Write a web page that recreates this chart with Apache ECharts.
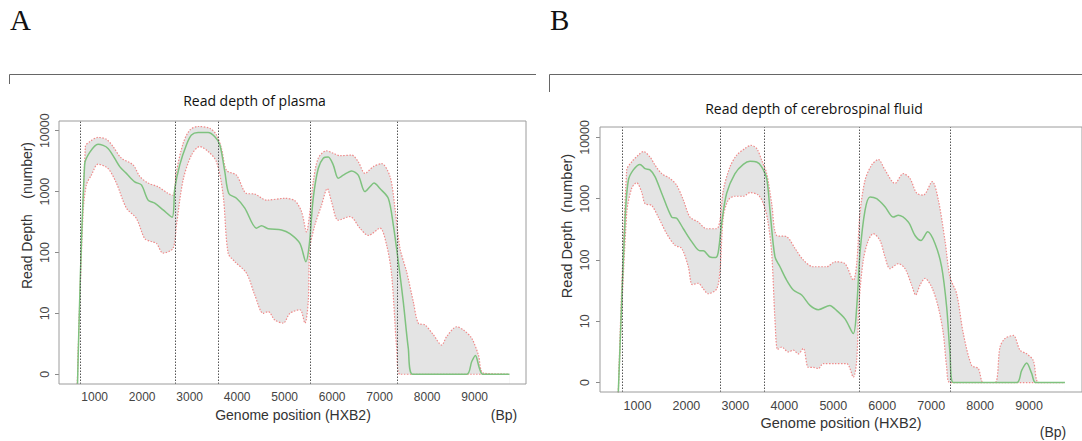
<!DOCTYPE html>
<html>
<head>
<meta charset="utf-8">
<script src="https://cdn.jsdelivr.net/npm/echarts@6/dist/echarts.min.js"></script>
<style>
html,body{margin:0;padding:0;background:#fff;}
#chart{width:1082px;height:441px;}
</style>
</head>
<body>
<div id="chart"></div>
<script>
// ---------- tick values / labels ----------
const xTickValues = [1000, 2000, 3000, 4000, 5000, 6000, 7000, 8000, 9000];
// y axis is log10(read depth); the reference labels the 10^0 level as "0"
const yTickValues = [0, 1, 2, 3, 4];
const yTickLabels = ['0', '10', '100', '1000', '10000'];

// ---------- Panel A: plasma  ([HXB2 position, log10 read depth]) ----------
const plasmaMean = [[640,-0.16],[790,3.45],[900,3.65],[1071,3.78],[1282,3.71],[1528,3.41],[1668,3.30],[1844,3.16],[1985,3.11],[2125,2.86],[2265,2.81],[2441,2.70],[2630,2.58],[2687,3.05],[2792,3.44],[2933,3.77],[3038,3.93],[3178,3.97],[3389,3.97],[3530,3.90],[3635,3.77],[3740,3.33],[3824,2.97],[3986,2.89],[4161,2.73],[4408,2.40],[4513,2.44],[4653,2.39],[4934,2.37],[5110,2.31],[5320,2.15],[5447,1.85],[5517,2.12],[5601,2.89],[5707,3.38],[5812,3.55],[5917,3.57],[6022,3.44],[6128,3.22],[6233,3.27],[6409,3.34],[6549,3.27],[6690,3.00],[6795,3.08],[6880,3.14],[7006,3.05],[7181,2.89],[7287,2.45],[7392,1.85],[7497,1.19],[7602,0.43],[7695,0],[8832,0],[8938,0.21],[9014,0.31],[9099,0.10],[9169,0],[9731,0]];
const plasmaUpper = [[636,-0.16],[805,3.74],[896,3.82],[1071,3.89],[1247,3.86],[1387,3.74],[1563,3.55],[1809,3.44],[1950,3.25],[2125,3.14],[2335,3.08],[2546,2.97],[2651,2.94],[2722,3.33],[2862,3.79],[3003,4.01],[3178,4.07],[3424,4.04],[3565,3.93],[3670,3.71],[3776,3.35],[3986,3.27],[4197,2.97],[4372,2.96],[4618,2.86],[5004,2.89],[5215,2.85],[5356,2.67],[5461,2.34],[5531,2.67],[5601,3.16],[5707,3.55],[5882,3.67],[6022,3.63],[6163,3.59],[6409,3.60],[6549,3.49],[6690,3.30],[6865,3.41],[7041,3.46],[7217,3.25],[7322,2.73],[7427,2.07],[7568,1.68],[7708,1.19],[7813,0.84],[7954,0.81],[8129,0.65],[8305,0.48],[8411,0.62],[8622,0.78],[8761,0.73],[8938,0.59],[9077,0.32],[9183,0.02],[9731,0]];
const plasmaLower = [[636,-0.16],[755,2.62],[826,3.11],[931,3.27],[1071,3.45],[1282,3.38],[1458,3.14],[1668,2.73],[1879,2.56],[2054,2.23],[2195,2.18],[2301,2.15],[2441,1.99],[2651,2.07],[2722,2.45],[2862,3.19],[3038,3.60],[3213,3.74],[3389,3.66],[3565,3.49],[3705,2.94],[3810,1.99],[3951,1.85],[4197,1.66],[4372,1.30],[4548,1.00],[4653,1.03],[4794,0.89],[4969,0.84],[5110,1.00],[5320,1.06],[5426,0.84],[5496,1.19],[5531,2.07],[5636,2.45],[5777,2.78],[5896,3.05],[5988,2.83],[6128,2.53],[6374,2.59],[6584,2.40],[6760,2.28],[7006,2.40],[7147,2.12],[7252,1.63],[7357,0.43],[7427,0],[9731,0]];
const plasmaBoundaries = [700, 2700, 3600, 5540, 7380];

// ---------- Panel B: cerebrospinal fluid ----------
const csfMean = [[609,-0.16],[746,2.65],[814,3.30],[916,3.47],[1052,3.56],[1154,3.49],[1256,3.47],[1358,3.36],[1495,3.09],[1699,2.70],[1801,2.68],[1937,2.51],[2108,2.30],[2277,2.15],[2345,2.15],[2482,2.05],[2598,2.04],[2651,2.13],[2720,2.60],[2822,3.09],[2992,3.41],[3162,3.56],[3299,3.61],[3435,3.60],[3537,3.52],[3640,3.33],[3707,2.81],[3809,2.05],[3911,1.89],[4048,1.67],[4184,1.51],[4354,1.43],[4524,1.26],[4694,1.19],[4932,1.26],[5035,1.20],[5239,1.04],[5409,0.80],[5478,1.23],[5545,2.11],[5648,2.81],[5750,3.03],[5886,3.00],[6056,2.87],[6226,2.70],[6328,2.73],[6532,2.62],[6669,2.40],[6791,2.32],[6928,2.46],[7077,2.27],[7213,1.89],[7316,1.23],[7384,0.47],[7451,0],[8746,0],[8848,0.20],[8950,0.32],[9052,0.15],[9134,0],[9732,0]];
const csfUpper = [[609,-0.16],[780,3.47],[882,3.60],[1017,3.71],[1120,3.77],[1256,3.68],[1358,3.55],[1495,3.41],[1665,3.33],[1801,3.22],[1937,2.98],[2073,2.70],[2243,2.62],[2414,2.51],[2619,2.51],[2686,2.65],[2754,3.14],[2890,3.52],[3027,3.71],[3196,3.82],[3319,3.87],[3435,3.82],[3537,3.63],[3640,3.41],[3742,2.92],[3844,2.40],[4048,2.38],[4218,2.19],[4388,2.00],[4592,1.89],[4865,1.89],[5035,1.97],[5239,1.94],[5409,1.67],[5478,1.94],[5545,2.76],[5648,3.30],[5784,3.55],[5920,3.64],[6056,3.47],[6260,3.25],[6430,3.41],[6567,3.33],[6703,3.09],[6839,3.06],[7022,3.28],[7145,2.98],[7281,2.32],[7384,1.72],[7520,1.45],[7656,0.80],[7826,0.28],[7962,0.23],[8064,0],[8303,0],[8405,0.58],[8507,0.72],[8677,0.77],[8813,0.53],[8950,0.47],[9085,0.36],[9202,0],[9732,0]];
const csfLower = [[609,-0.16],[780,2.76],[882,3.17],[984,3.26],[1086,3.11],[1154,2.92],[1290,2.89],[1426,2.70],[1597,2.43],[1767,2.24],[1903,2.19],[2039,1.89],[2120,1.60],[2243,1.62],[2345,1.53],[2447,1.45],[2619,1.53],[2686,1.83],[2754,2.70],[2856,2.98],[2992,3.04],[3162,3.04],[3299,3.10],[3469,3.06],[3571,2.92],[3660,2.65],[3742,2.11],[3809,1.02],[3864,0.54],[3946,0.58],[4082,0.50],[4184,0.53],[4285,0.47],[4388,0.56],[4490,0.25],[4592,0.25],[4694,0.23],[4796,0.31],[5035,0.31],[5273,0.31],[5409,0.09],[5478,0.36],[5525,1.29],[5613,2.00],[5715,2.32],[5817,2.43],[5954,2.32],[6056,2.05],[6158,1.86],[6328,1.94],[6465,1.86],[6601,1.59],[6683,1.43],[6771,1.59],[6873,1.70],[7010,1.56],[7145,1.23],[7247,0.80],[7316,0.25],[7384,0],[9732,0]];
const csfBoundaries = [697, 2700, 3585, 5531, 7384];

// ---------- styles ----------
const SANS = '"Liberation Sans", Arial, sans-serif';
const BAND = '#e4e4e4';
const RED = '#f08a8a';
const GREEN = '#7fc27f';
const SMOOTH = 0.3;

function xAxisCfg(idx, min, max, fs) {
  return {
    gridIndex: idx, type: 'value', min: min, max: max,
    axisLine: { show: false }, splitLine: { show: false },
    axisTick: { show: true, customValues: xTickValues, length: 4, lineStyle: { color: '#8a8a8a' } },
    axisLabel: { customValues: xTickValues, margin: 7, fontSize: fs, color: '#444', fontFamily: SANS,
      formatter: function (v) { return String(Math.round(v)); } }
  };
}
function yAxisCfg(idx, min, max, fs, margin) {
  return {
    gridIndex: idx, type: 'value', min: min, max: max,
    axisLine: { show: false }, splitLine: { show: false },
    axisTick: { show: true, customValues: yTickValues, length: 4, lineStyle: { color: '#8a8a8a' } },
    axisLabel: {
      customValues: yTickValues, rotate: 90, margin: margin, fontSize: fs, color: '#444', fontFamily: SANS,
      formatter: function (v) { const i = yTickValues.indexOf(Math.round(v)); return i >= 0 ? yTickLabels[i] : ''; }
    }
  };
}
function panelSeries(idx, upper, lower, mean, bounds) {
  const base = { type: 'line', xAxisIndex: idx, yAxisIndex: idx, showSymbol: false, symbol: 'none', smooth: SMOOTH, silent: true, animation: false };
  return [
    Object.assign({}, base, { name: 'upper' + idx, data: upper, z: 1,
      lineStyle: { color: RED, width: 1.2, type: [1.5, 1.5] },
      areaStyle: { color: BAND, opacity: 1, origin: 'start' } }),
    Object.assign({}, base, { name: 'lower' + idx, data: lower, z: 2,
      lineStyle: { color: RED, width: 1.2, type: [1.5, 1.5] },
      areaStyle: { color: '#ffffff', opacity: 1, origin: 'start' } }),
    Object.assign({}, base, { name: 'mean' + idx, data: mean, z: 3,
      lineStyle: { color: GREEN, width: 1.5 },
      markLine: { silent: true, symbol: 'none', label: { show: false }, animation: false,
        lineStyle: { color: '#555', width: 1, type: [1.5, 1.5] },
        data: bounds.map(function (b) { return { xAxis: b }; }) } })
  ];
}

const chart = echarts.init(document.getElementById('chart'), null, { renderer: 'svg' });
chart.setOption({
  animation: false,
  backgroundColor: '#ffffff',
  grid: [
    { left: 59, top: 121, width: 467, height: 263, show: true, borderColor: '#9c9c9c', borderWidth: 1, backgroundColor: 'transparent', z: 10 },
    { left: 600, top: 127, width: 482, height: 265, show: true, borderColor: '#9c9c9c', borderWidth: 1, backgroundColor: 'transparent', z: 10 }
  ],
  xAxis: [ xAxisCfg(0, 250, 10080, 12), xAxisCfg(1, 235, 10080, 12.5) ],
  yAxis: [ yAxisCfg(0, -0.16, 4.16, 12.5, 8), yAxisCfg(1, -0.153, 4.17, 12.5, 9) ],
  series: [].concat(
    panelSeries(0, plasmaUpper, plasmaLower, plasmaMean, plasmaBoundaries),
    panelSeries(1, csfUpper, csfLower, csfMean, csfBoundaries)
  ),
  graphic: [
    { type: 'text', x: 10, y: 20, style: { text: 'A', font: '29px "Liberation Serif", "Times New Roman", serif', fill: '#111', align: 'left', verticalAlign: 'middle' } },
    { type: 'text', x: 550, y: 20, style: { text: 'B', font: '29px "Liberation Serif", "Times New Roman", serif', fill: '#111', align: 'left', verticalAlign: 'middle' } },
    { type: 'polyline', shape: { points: [[9.5, 84], [9.5, 74.5], [536, 74.5]] }, style: { stroke: '#666', lineWidth: 1, fill: null } },
    { type: 'polyline', shape: { points: [[549.5, 92], [549.5, 74.5], [1082, 74.5]] }, style: { stroke: '#666', lineWidth: 1, fill: null } },
    { type: 'text', x: 254.5, y: 100, style: { text: 'Read depth of plasma', font: '14px "Open Sans", sans-serif', fill: '#111', align: 'center', verticalAlign: 'middle' } },
    { type: 'text', x: 814, y: 108, style: { text: 'Read depth of cerebrospinal fluid', font: '14px "Open Sans", sans-serif', fill: '#111', align: 'center', verticalAlign: 'middle' } },
    { type: 'text', x: 293, y: 415, style: { text: 'Genome position (HXB2)', font: '14px ' + SANS, fill: '#333', align: 'center', verticalAlign: 'middle' } },
    { type: 'text', x: 504, y: 415, style: { text: '(Bp)', font: '14px ' + SANS, fill: '#333', align: 'center', verticalAlign: 'middle' } },
    { type: 'text', x: 841, y: 423, style: { text: 'Genome position (HXB2)', font: '14.5px ' + SANS, fill: '#333', align: 'center', verticalAlign: 'middle' } },
    { type: 'text', x: 1053, y: 432, style: { text: '(Bp)', font: '14px ' + SANS, fill: '#333', align: 'center', verticalAlign: 'middle' } },
    { type: 'text', x: 27, y: 215.5, rotation: Math.PI / 2, style: { text: 'Read Depth    (number)', font: '14px ' + SANS, fill: '#333', align: 'center', verticalAlign: 'middle' } },
    { type: 'text', x: 566.7, y: 226, rotation: Math.PI / 2, style: { text: 'Read Depth  (number)', font: '14.5px ' + SANS, fill: '#333', align: 'center', verticalAlign: 'middle' } }
  ]
});
</script>
</body>
</html>
